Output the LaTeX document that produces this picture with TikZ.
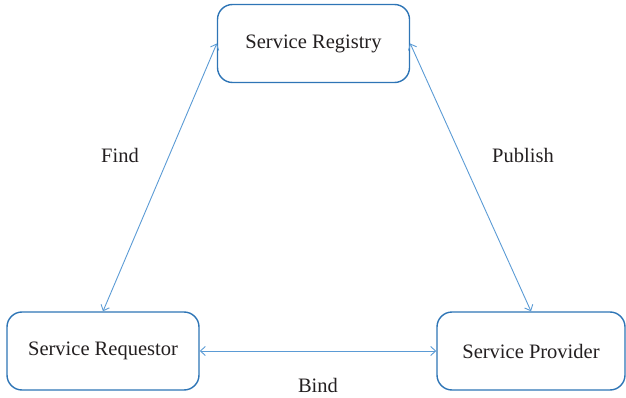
\documentclass[tikz,border=0pt]{standalone}
\usepackage{fontspec}
\setmainfont{Liberation Serif}
\usetikzlibrary{arrows.meta}
\definecolor{boxblue}{RGB}{46,117,182}
\definecolor{linkblue}{RGB}{91,155,213}
\definecolor{inktext}{RGB}{35,31,32}
\tikzset{
  role/.style={draw=boxblue, line width=1.4pt, rounded corners=15pt, fill=white,
    minimum height=78pt, inner sep=0pt, text=inktext,
    font=\fontsize{20.5}{24}\selectfont},
  link/.style={draw=linkblue, line width=0.9pt,
    {Straight Barb[length=5pt,width=9pt]}-{Straight Barb[length=5pt,width=9pt]}},
  tag/.style={text=inktext, font=\fontsize{20.5}{24}\selectfont, inner sep=0pt}
}
\begin{document}
\begin{tikzpicture}[x=1pt, y=-1pt]
  \useasboundingbox (0,0) rectangle (626,398);
  % the three roles
  \node[role, minimum width=192pt] (reg)  at (313.5,43.5)  {Service Registry};
  \node[role, minimum width=192pt] (req)  at (103,351)     {Service Requestor};
  \node[role, minimum width=188pt] (prov) at (531,351)     {Service Provider};
  % interactions between them
  \draw[link] (reg.west) -- (req.north);
  \draw[link] (reg.east) -- (prov.north);
  \draw[link] (req.east) -- (prov.west);
  % interaction labels
  \node[tag] (find)    at (120,155) {Find};
  \node[tag] (publish) at (523,155) {Publish};
  \node[tag] (bind)    at (318,385) {Bind};
\end{tikzpicture}
\end{document}
